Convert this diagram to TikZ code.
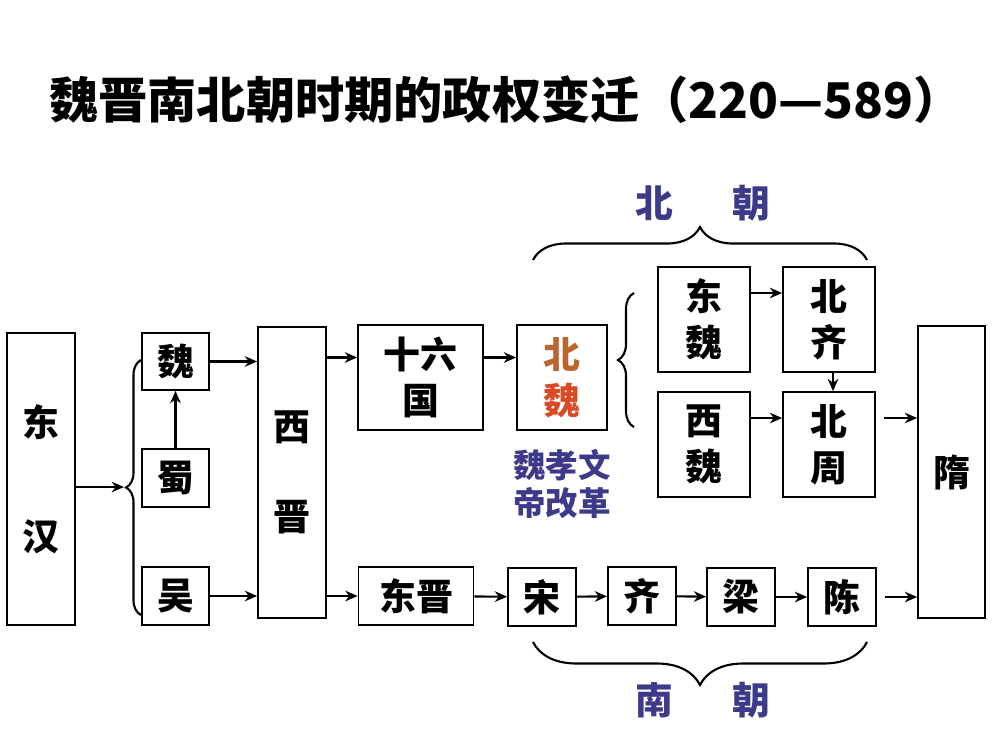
\documentclass[tikz,border=0pt]{standalone}
\usepackage{fontspec}
\newfontfamily\hei{Noto Sans CJK SC}
\usetikzlibrary{decorations.pathreplacing, arrows.meta}
\definecolor{zilan}{HTML}{3D3A8A}
\definecolor{beicheng}{HTML}{B8652F}
\definecolor{weihong}{HTML}{D94A25}
\begin{document}
\begin{tikzpicture}[
    x=0.02cm, y=-0.02cm,
    kuang/.style={draw=black, line width=1pt, font=\hei\bfseries\fontsize{21}{26}\selectfont, align=center, inner sep=0pt},
    jiantou/.style={-{Stealth[length=7pt, width=6pt]}, line width=1.2pt},
    kuohao/.style={decorate, decoration={brace, amplitude=#1}, line width=1.2pt},
    kuohao/.default=0.3cm,
    biaoti/.style={font=\hei\bfseries\fontsize{28}{32}\selectfont},
    chao/.style={font=\hei\bfseries\fontsize{21.5}{26}\selectfont, text=zilan},
    zhu/.style={font=\hei\bfseries\fontsize{18.5}{21.6}\selectfont, text=zilan, align=center}
]
    \useasboundingbox (0,0) rectangle (1000,750);

    % 1. Titolo
    \node[biaoti] (Titolo) at (506,100) {魏晋南北朝时期的政权变迁（220—589）};

    % 2. Colonna di sinistra: 东汉 e i Tre Regni
    \node[kuang, minimum width=1.36cm, minimum height=5.84cm] (DH) at (41,479) {东\\[39pt]汉};
    \node[kuang, minimum width=1.34cm, minimum height=1.14cm] (Wei) at (175.5,361.5) {魏};
    \node[kuang, minimum width=1.34cm, minimum height=1.16cm] (Shu) at (175.5,478) {蜀};
    \node[kuang, minimum width=1.34cm, minimum height=1.16cm] (Wu) at (175.5,596) {吴};
    \node[kuang, minimum width=1.36cm, minimum height=5.82cm] (XJ) at (292,472.5) {西\\[25pt]晋};

    % 3. Ramo del nord
    \node[kuang, minimum width=2.5cm, minimum height=2.1cm] (SLG) at (420.5,377.5) {十六\\国};
    \node[kuang, minimum width=1.8cm, minimum height=2.1cm] (BW) at (562,377.5) {\color{beicheng}北\\\color{weihong}魏};
    \node[zhu] (GG) at (562,484) {魏孝文\\帝改革};
    \node[kuang, minimum width=1.84cm, minimum height=2.1cm] (DW) at (704,319.5) {东\\魏};
    \node[kuang, minimum width=1.84cm, minimum height=2.1cm] (BQ) at (829,319.5) {北\\齐};
    \node[kuang, minimum width=1.84cm, minimum height=2.1cm] (XW) at (704,444.5) {西\\魏};
    \node[kuang, minimum width=1.84cm, minimum height=2.1cm] (BZ) at (829,444.5) {北\\周};

    % 4. Ramo del sud
    \node[kuang, minimum width=2.3cm, minimum height=1.16cm] (DJ) at (416,596) {东晋};
    \node[kuang, minimum width=1.36cm, minimum height=1.16cm] (Song) at (542,597) {宋};
    \node[kuang, minimum width=1.36cm, minimum height=1.16cm] (Qi) at (642,596) {齐};
    \node[kuang, minimum width=1.36cm, minimum height=1.16cm] (Liang) at (741,597) {梁};
    \node[kuang, minimum width=1.36cm, minimum height=1.16cm] (Chen) at (842,597) {陈};

    % 5. 隋
    \node[kuang, minimum width=1.34cm, minimum height=5.84cm] (Sui) at (951.5,472) {隋};

    % 6. Parentesi graffe e scritte
    \coordinate (SGjian) at (124,487);
    \draw[kuohao=0.3cm] (141,615) -- (141,360);
    \draw[kuohao=0.32cm] (634,427) -- (634,293);
    \draw[kuohao=0.66cm] (533,260) -- (867,260);
    \draw[kuohao=0.86cm] (867,642) -- (533,642);
    \node[chao] (BC) at (703,203) {北\hspace{1.18cm}朝};
    \node[chao] (NC) at (703,700) {南\hspace{1.18cm}朝};

    % 7. Frecce
    \draw[jiantou] (DH.east |- SGjian) -- (SGjian);
    \draw[jiantou] (Shu) -- (Wei);
    \draw[jiantou] (Wei) -- (Wei -| XJ.west);
    \draw[jiantou] (Wu) -- (Wu -| XJ.west);
    \draw[jiantou] ([yshift=0.4cm]SLG.west -| XJ.east) -- ([yshift=0.4cm]SLG.west);
    \draw[jiantou] (XJ.east |- DJ) -- (DJ);
    \draw[jiantou] ([yshift=0.4cm]SLG.east) -- ([yshift=0.4cm]BW.west);
    \draw[jiantou] ([yshift=0.53cm]DW.east) -- ([yshift=0.53cm]BQ.west);
    \draw[jiantou] ([yshift=0.53cm]XW.east) -- ([yshift=0.53cm]BZ.west);
    \draw[jiantou] ([xshift=0.08cm]BQ.south) -- ([xshift=0.08cm]BZ.north);
    \draw[jiantou, shorten <=0.16cm] ([yshift=0.53cm]BZ.east) -- ([yshift=0.53cm]BZ.east -| Sui.west);
    \foreach \a/\b in {DJ/Song, Song/Qi, Qi/Liang, Liang/Chen}
        \draw[jiantou] (\a) -- (\b);
    \draw[jiantou, shorten <=0.16cm] (Chen) -- (Chen -| Sui.west);

\end{tikzpicture}
\end{document}
